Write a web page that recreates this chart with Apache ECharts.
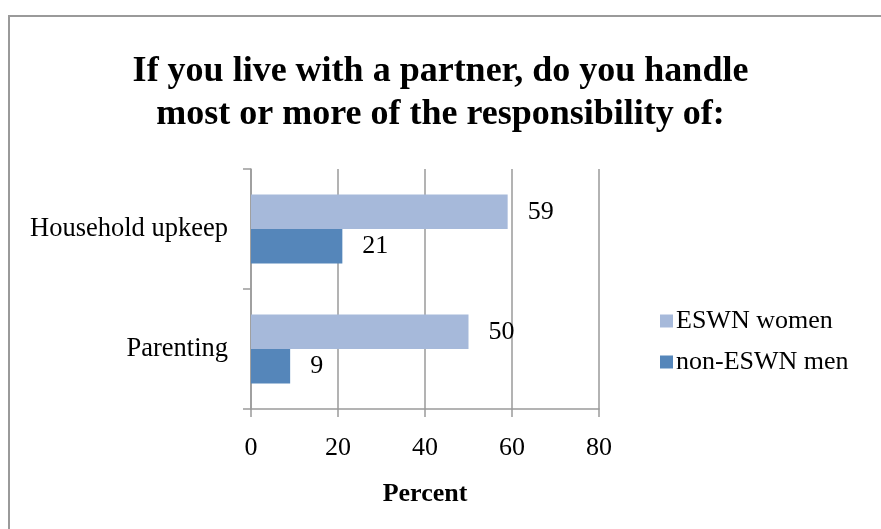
<!DOCTYPE html>
<html>
<head>
<meta charset="utf-8">
<script src="https://cdn.jsdelivr.net/npm/echarts@6/dist/echarts.min.js"></script>
<style>html,body{margin:0;padding:0;background:#fff}#c{width:881px;height:529px}</style>
</head>
<body>
<div id="c"></div>
<script>
const titleText = "If you live with a partner, do you handle\nmost or more of the responsibility of:";
const categories = ["Household upkeep", "Parenting"];
const seriesNames = ["ESWN women", "non-ESWN men"];
const eswnWomen = [59, 50];
const nonEswnMen = [21, 9];
const xTicks = [0, 20, 40, 60, 80];
const xAxisTitle = "Percent";

const FONT = "'Liberation Serif', 'Times New Roman', serif";
const GRAY = "#9a9a9a";
const chart = echarts.init(document.getElementById('c'), null, {renderer: 'canvas'});
const labelOpt = {show: true, position: 'right', distance: 20, fontFamily: FONT, fontSize: 26, color: '#000'};
chart.setOption({
  animation: false,
  backgroundColor: '#fff',
  graphic: [{
    type: 'rect', shape: {x: 9, y: 16, width: 900, height: 600},
    style: {fill: 'none', stroke: GRAY, lineWidth: 2}, silent: true
  }],
  title: {
    text: titleText, left: 'center', top: 45,
    textStyle: {fontFamily: FONT, fontSize: 36, fontWeight: 'bold', color: '#000', lineHeight: 43}
  },
  legend: {
    orient: 'vertical', left: 655, top: 303,
    itemWidth: 13, itemHeight: 13, itemGap: 15, icon: 'rect',
    textStyle: {fontFamily: FONT, fontSize: 26, color: '#000', lineHeight: 26, padding: [0, 0, 0, -2]},
    data: seriesNames
  },
  grid: {left: 251, right: 282, top: 169, bottom: 120, containLabel: false},
  xAxis: {
    type: 'value', min: xTicks[0], max: xTicks[xTicks.length - 1], interval: 20,
    name: xAxisTitle, nameLocation: 'middle', nameGap: 72,
    nameTextStyle: {fontFamily: FONT, fontSize: 26, fontWeight: 'bold', color: '#000'},
    axisLine: {show: true, lineStyle: {color: GRAY, width: 1.5}},
    axisTick: {show: true, length: 8, inside: false, lineStyle: {color: GRAY, width: 1.5}},
    splitLine: {show: true, lineStyle: {color: GRAY, width: 1.5}},
    axisLabel: {fontFamily: FONT, fontSize: 26, color: '#000', margin: 26}
  },
  yAxis: {
    type: 'category', data: categories, inverse: true,
    axisLine: {show: true, lineStyle: {color: GRAY, width: 1.5}},
    axisTick: {show: true, length: 8, alignWithLabel: false, lineStyle: {color: GRAY, width: 1.5}},
    axisLabel: {fontFamily: FONT, fontSize: 26.5, color: '#000', margin: 23}
  },
  series: [
    {name: seriesNames[0], type: 'bar', data: eswnWomen, barGap: '0%', barCategoryGap: '42.5%',
     itemStyle: {color: '#a6b9da'}, label: labelOpt},
    {name: seriesNames[1], type: 'bar', data: nonEswnMen, barGap: '0%', barCategoryGap: '42.5%',
     itemStyle: {color: '#5586ba'}, label: labelOpt}
  ]
});
</script>
</body>
</html>
